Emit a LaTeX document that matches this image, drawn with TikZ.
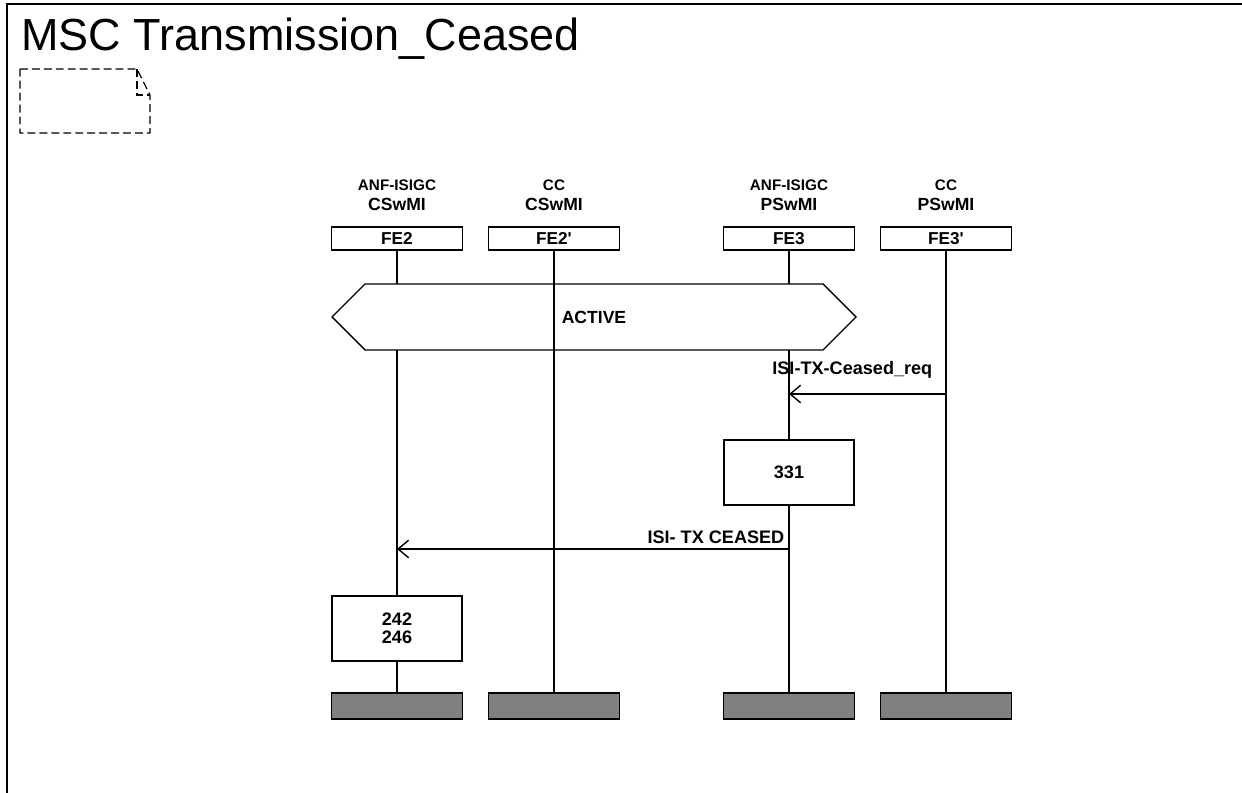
\documentclass[tikz,border=0pt]{standalone}
\usepackage{fontspec}
\setmainfont{Liberation Sans}
\usetikzlibrary{arrows.meta}

\tikzset{
  inst/.style={draw, line width=0.8pt, minimum width=2.62cm, minimum height=0.46cm, inner sep=0pt, font=\bfseries\fontsize{9.8}{10}\selectfont},
  instend/.style={draw, line width=0.8pt, fill=gray, minimum width=2.62cm, minimum height=0.52cm, inner sep=0pt},
  lifeline/.style={line width=0.8pt},
  action/.style={draw, fill=white, line width=0.8pt, minimum width=2.6cm, minimum height=1.3cm, inner sep=0pt, align=center, font=\bfseries\fontsize{10.3}{10.5}\selectfont},
  msg/.style={line width=0.8pt, -{Straight Barb[length=6pt, width=10pt]}},
  msglabel/.style={font=\bfseries\fontsize{10.3}{12}\selectfont, inner sep=0pt, anchor=base east},
  comment/.style={line width=0.7pt, dash pattern=on 4.5pt off 2.3pt}
}

\begin{document}
\begin{tikzpicture}[x=0.02cm, y=-0.02cm]
  % Fix the page to the size of the drawing
  \useasboundingbox (0,0) rectangle (1242,793);

  % Frame and title
  \draw[line width=1.2pt] (1242,4) -- (7,4) -- (7,793);
  \node[anchor=base west, inner sep=0pt, font=\fontsize{25.6}{30}\selectfont] (title) at (21,51) {MSC Transmission\_Ceased};

  % Comment symbol
  \draw[comment] (20,69) -- (137,69) -- (150,95) -- (150,133) -- (20,133) -- cycle;
  \draw[comment] (137,69) -- (137,95) -- (150,95);

  % Instance heads, names and ends
  \foreach \x/\name/\kind/\sw/\fe in {397/fe2/ANF-ISIGC/CSwMI/FE2, 554/fe2p/CC/CSwMI/{FE2\textquotesingle}, 789/fe3/ANF-ISIGC/PSwMI/FE3, 946/fe3p/CC/PSwMI/{FE3\textquotesingle}}
  {
    \node[inst] (\name) at (\x,238.5) {\fe};
    \node[font=\bfseries\fontsize{8.7}{10}\selectfont] (\name-kind) at (\x,185) {\kind};
    \node[font=\bfseries\fontsize{10}{12}\selectfont] (\name-sw) at (\x,204) {\sw};
    \node[instend] (\name-end) at (\x,706) {};
  }

  % Lifelines
  \foreach \name in {fe2,fe3,fe3p}
    \draw[lifeline] (\name.south) -- (\name-end.north);

  % Condition ACTIVE
  \draw[line width=0.8pt, fill=white] (332,317) -- (365,284) -- (823,284) -- (856,317) -- (823,350) -- (365,350) -- cycle;
  \node[font=\bfseries\fontsize{10}{12}\selectfont] (active) at (594,317) {ACTIVE};
  \draw[lifeline] (fe2p.south) -- (fe2p-end.north);

  % Actions
  \node[action] (a331) at (789,472.5) {331};
  \node[action] (a242) at (397,628.5) {242\\246};

  % Messages
  \draw[msg] (fe3p |- 0,394) -- (fe3 |- 0,394)
    node[msglabel, pos=0, xshift=-0.26cm, yshift=0.38cm] (m1) {ISI-TX-Ceased\_req};
  \draw[msg] (fe3 |- 0,549) -- (fe2 |- 0,549)
    node[msglabel, pos=0, xshift=-0.08cm, yshift=0.1cm] (m2) {ISI- TX CEASED};
\end{tikzpicture}
\end{document}
